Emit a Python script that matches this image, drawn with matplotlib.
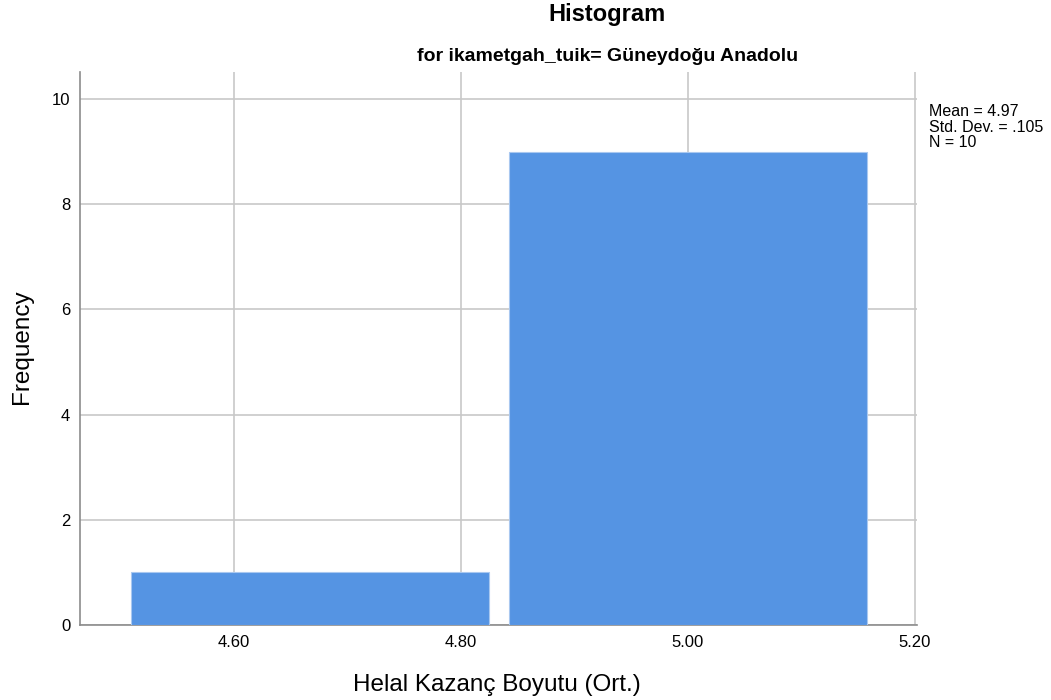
import matplotlib
matplotlib.use("Agg")
import matplotlib.pyplot as plt

plt.rcParams['font.family'] = ['Liberation Sans', 'DejaVu Sans']

# histogram data (SPSS output)
bin_edges = [4.50, 4.8333, 5.1667]
counts = [1, 9]
x_ticks = [4.60, 4.80, 5.00, 5.20]
y_ticks = [0, 2, 4, 6, 8, 10]
stats_lines = ["Mean = 4.97", "Std. Dev. = .105", "N = 10"]

fig = plt.figure(figsize=(10.51, 7.0), dpi=100)
ax = fig.add_axes([0.0761, 0.1071, 0.7964, 0.7899])

centers = [(bin_edges[i] + bin_edges[i + 1]) / 2 for i in range(len(counts))]
widths = [(bin_edges[i + 1] - bin_edges[i]) * 0.947 for i in range(len(counts))]
ax.bar(centers, counts, width=widths, color='#5594e3', edgecolor='#a9c8f0',
       linewidth=0.8, zorder=3)

ax.set_xlim(4.464, 5.202)
ax.set_ylim(0, 10.51)
ax.set_xticks(x_ticks)
ax.set_xticklabels([f"{t:.2f}" for t in x_ticks])
ax.set_yticks(y_ticks)
ax.grid(True, color='#c8c8c8', linewidth=1.2, zorder=0)
ax.tick_params(length=0, labelsize=12, pad=7)
for s in ['top', 'right']:
    ax.spines[s].set_visible(False)
for s in ['left', 'bottom']:
    ax.spines[s].set_color('#8c8c8c')
    ax.spines[s].set_linewidth(1.2)

ax.set_ylabel("Frequency", fontsize=17.5)
ax.set_xlabel("Helal Kazanç Boyutu (Ort.)", fontsize=17.5)
ax.yaxis.set_label_coords(-0.0693, 0.503)
ax.xaxis.set_label_coords(0.498, -0.1085)
ax.yaxis.label.set_va('center')
ax.xaxis.label.set_va('center')

fig.text(0.578, 0.979, "Histogram", ha='center', va='center', fontsize=17, fontweight='bold')
fig.text(0.578, 0.9186, "for ikametgah_tuik= Güneydoğu Anadolu", ha='center', va='center',
         fontsize=14, fontweight='bold')
fig.text(0.884, 0.851, "\n".join(stats_lines), ha='left', va='top', fontsize=11.5,
         linespacing=1.02)

fig.savefig("out.png", dpi=100)
